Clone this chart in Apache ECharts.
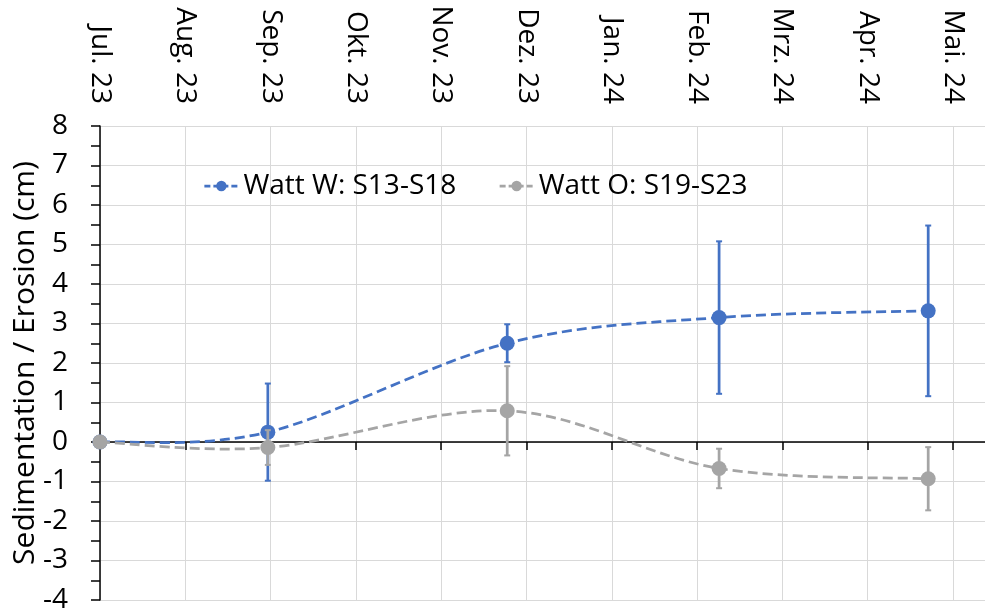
<!DOCTYPE html>
<html>
<head>
<meta charset="utf-8">
<script src="https://cdn.jsdelivr.net/npm/echarts@6/dist/echarts.min.js"></script>
<style>
html,body{margin:0;padding:0;background:#fff;}
#chart{width:985px;height:611px;}
</style>
</head>
<body>
<div id="chart"></div>
<script>
// ---- data ----
const startDate = '2023-07-01';
const monthLabels = ['Jul. 23','Aug. 23','Sep. 23','Okt. 23','Nov. 23','Dez. 23','Jan. 24','Feb. 24','Mrz. 24','Apr. 24','Mai. 24'];
const sampleDates = ['2023-07-01','2023-08-31','2023-11-26','2024-02-11','2024-04-27'];
const seriesNames = ['Watt W: S13-S18','Watt O: S19-S23'];
const wattW = [0, 0.25, 2.50, 3.15, 3.32];
const wattWErr = [0, 1.23, 0.48, 1.93, 2.16];
const wattO = [0, -0.14, 0.79, -0.67, -0.93];
const wattOErr = [0, 0.44, 1.13, 0.50, 0.80];

const DAY = 86400000;
const t0 = Date.parse(startDate);
const dayOffsets = sampleDates.map(d => Math.round((Date.parse(d) - t0) / DAY));
const TICK_DAYS = 31;

const FONT = 'Open Sans';
const FS = 28;
const blue = '#4472C4', grey = '#A5A5A5';
const DASH = [10, 5];

function lineData(vals){ return vals.map((v,i)=>[dayOffsets[i], v]); }
function errData(vals, errs){ return vals.map((v,i)=>[dayOffsets[i], v, errs[i]]); }

function errRender(color){
  return function(params, api){
    const err = api.value(2);
    if (!err) return null;
    const x = api.value(0), y = api.value(1);
    const hi = api.coord([x, y + err]);
    const lo = api.coord([x, y - err]);
    const cap = 3;
    const style = {stroke: color, lineWidth: 2.75};
    return {type:'group', children:[
      {type:'line', shape:{x1:hi[0], y1:hi[1], x2:lo[0], y2:lo[1]}, style},
      {type:'line', shape:{x1:hi[0]-cap, y1:hi[1], x2:hi[0]+cap, y2:hi[1]}, style:{stroke:color, lineWidth:2}},
      {type:'line', shape:{x1:lo[0]-cap, y1:lo[1], x2:lo[0]+cap, y2:lo[1]}, style:{stroke:color, lineWidth:2}}
    ]};
  };
}

// Excel-like smoothed curve (Catmull-Rom style Bezier) drawn through the axis scales
function curveRender(vals, color){
  const data = lineData(vals);
  return function(params, api){
    if (params.dataIndex !== 0) return null;
    const p = data.map(d => api.coord(d));
    const n = p.length;
    let d = 'M' + p[0][0] + ' ' + p[0][1];
    for (let i = 0; i < n - 1; i++){
      const p0 = p[Math.max(i-1,0)], p1 = p[i], p2 = p[i+1], p3 = p[Math.min(i+2,n-1)];
      const c1 = [p1[0] + (p2[0]-p0[0])/6, p1[1] + (p2[1]-p0[1])/6];
      const c2 = [p2[0] - (p3[0]-p1[0])/6, p2[1] - (p3[1]-p1[1])/6];
      d += ' C' + c1[0] + ' ' + c1[1] + ' ' + c2[0] + ' ' + c2[1] + ' ' + p2[0] + ' ' + p2[1];
    }
    return {type:'path', shape:{pathData:d}, style:{stroke:color, fill:null, lineWidth:2.75, lineDash:DASH}};
  };
}

const chart = echarts.init(document.getElementById('chart'), null, {renderer:'canvas'});
const option = {
  animation:false,
  backgroundColor:'#fff',
  textStyle:{fontFamily:FONT},
  grid:{left:100, top:126, width:908, bottom:11, containLabel:false, outerBoundsMode:'none'},
  legend:{
    data:[
      {name:seriesNames[0], lineStyle:{color:blue, width:2.75, type:[6,3], opacity:1}},
      {name:seriesNames[1], lineStyle:{color:grey, width:2.75, type:[6,3], opacity:1}}
    ],
    left:198, top:167,
    itemWidth:34, itemHeight:13, itemGap:42,
    textStyle:{fontFamily:FONT, fontSize:FS, color:'#000'}
  },
  xAxis:[{
    type:'value', position:'top', min:0, max:330, interval:TICK_DAYS,
    axisLine:{show:false, onZero:false},
    axisTick:{show:false},
    splitLine:{show:true, lineStyle:{color:'#d9d9d9', width:1}},
    axisLabel:{
      rotate:90, margin:22, fontFamily:FONT, fontSize:FS, color:'#000',
      formatter:function(v){ const i=Math.round(v/TICK_DAYS); return (Math.abs(v-i*TICK_DAYS)<0.01 && monthLabels[i]) ? monthLabels[i] : ''; }
    }
  },{
    type:'value', position:'bottom', min:0, max:330, interval:TICK_DAYS,
    axisLine:{show:true, onZero:true, onZeroAxisIndex:0, lineStyle:{color:'#000', width:1.5}},
    axisTick:{show:true, inside:false, length:8, lineStyle:{color:'#000', width:1.5}},
    splitLine:{show:false},
    axisLabel:{show:false}
  }],
  yAxis:{
    type:'value', min:-4, max:8, interval:1,
    name:'Sedimentation / Erosion (cm)', nameLocation:'middle', nameGap:60, nameMoveOverlap:false,
    nameTextStyle:{fontFamily:FONT, fontSize:30, color:'#000'},
    axisLine:{show:true, onZero:false, lineStyle:{color:'#000', width:1.5}},
    axisTick:{show:true, inside:false, length:9, lineStyle:{color:'#000', width:1.5}},
    minorTick:{show:true, splitNumber:2, length:9, lineStyle:{color:'#000', width:1.5}},
    splitLine:{show:true, lineStyle:{color:'#d9d9d9', width:1}},
    axisLabel:{margin:32, fontFamily:FONT, fontSize:FS, color:'#000'}
  },
  series:[
    {type:'custom', name:'curveW', xAxisIndex:0, renderItem:curveRender(wattW, blue), data:lineData(wattW), z:2, silent:true},
    {type:'custom', name:'errW', xAxisIndex:0, renderItem:errRender(blue), data:errData(wattW, wattWErr), z:3, silent:true},
    {type:'line', name:seriesNames[0], xAxisIndex:0, data:lineData(wattW),
      symbol:'circle', symbolSize:15, itemStyle:{color:blue},
      lineStyle:{color:blue, width:2.75, opacity:0}, z:4},
    {type:'custom', name:'curveO', xAxisIndex:0, renderItem:curveRender(wattO, grey), data:lineData(wattO), z:5, silent:true},
    {type:'custom', name:'errO', xAxisIndex:0, renderItem:errRender(grey), data:errData(wattO, wattOErr), z:6, silent:true},
    {type:'line', name:seriesNames[1], xAxisIndex:0, data:lineData(wattO),
      symbol:'circle', symbolSize:15, itemStyle:{color:grey},
      lineStyle:{color:grey, width:2.75, opacity:0}, z:7}
  ]
};
chart.setOption(option);
</script>
</body>
</html>
